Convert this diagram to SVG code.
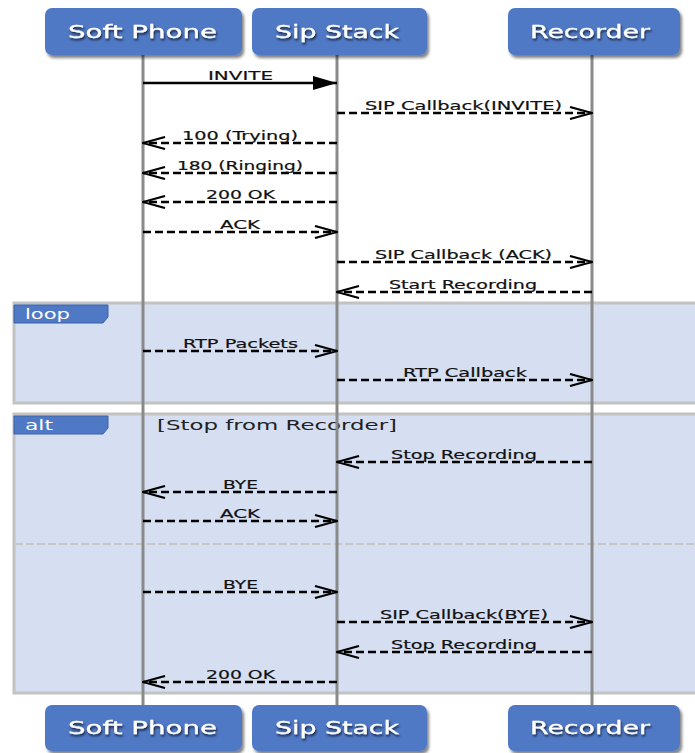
<svg xmlns="http://www.w3.org/2000/svg" width="695" height="753" viewBox="0 0 695 753">
<style>
.bg{fill:#ffffff}
.frame{fill:#d6dff1;stroke:#c2c2c2;stroke-width:3}
.div{stroke:#c6c6c6;stroke-width:2;stroke-dasharray:8 3;fill:none}
.life{stroke:#8a8a8a;stroke-width:3}
.box{fill:#4f78c5}
.btxt{font-family:"DejaVu Sans",sans-serif;font-size:18px;fill:#ffffff;stroke:#ffffff;stroke-width:0.3}
.tag{fill:#4f78c5;stroke:#3d63a8;stroke-width:1}
.ttxt{font-family:"DejaVu Sans",sans-serif;font-size:14px;fill:#ffffff}
.cond{font-family:"DejaVu Sans",sans-serif;font-size:14px;fill:#222222}
.msg{stroke:#000;stroke-width:2.5;fill:none;stroke-dasharray:8 4}
.solid{stroke:#000;stroke-width:2.5;fill:none}
.lbl{font-family:"DejaVu Sans",sans-serif;font-size:13px;fill:#111111;stroke:#111111;stroke-width:0.2}
</style>
<defs>
<filter id="sh" x="-10%" y="-10%" width="125%" height="140%">
<feGaussianBlur in="SourceAlpha" stdDeviation="1.5"/>
<feOffset dx="2" dy="3" result="b"/>
<feComponentTransfer><feFuncA type="linear" slope="0.5"/></feComponentTransfer>
<feMerge><feMergeNode/><feMergeNode in="SourceGraphic"/></feMerge>
</filter>
<filter id="tsh" x="-10%" y="-20%" width="120%" height="150%">
<feGaussianBlur in="SourceAlpha" stdDeviation="1"/>
<feOffset dx="1" dy="1.5"/>
<feComponentTransfer><feFuncA type="linear" slope="0.7"/></feComponentTransfer>
<feMerge><feMergeNode/><feMergeNode in="SourceGraphic"/></feMerge>
</filter>
<marker id="open" viewBox="0 0 24 14" refX="23" refY="7" markerWidth="24" markerHeight="14" markerUnits="userSpaceOnUse" orient="auto">
<path d="M1,1 L23,7 L1,13" fill="none" stroke="#000" stroke-width="2.2"/>
</marker>
<marker id="fill" viewBox="0 0 24 14" refX="24" refY="7" markerWidth="24" markerHeight="14" markerUnits="userSpaceOnUse" orient="auto">
<path d="M0,0 L24,7 L0,14 Z" fill="#000"/>
</marker>
</defs>
<rect class="bg" x="0" y="0" width="695" height="753"/>

<g id="loop-frame">
<rect class="frame" x="14" y="303" width="690" height="100"/>
<path class="tag" d="M14,305 H108 V317 L103,323 H14 Z"/>
<text class="ttxt" x="25" y="319" textLength="45" lengthAdjust="spacingAndGlyphs">loop</text>
</g>
<g id="alt-frame">
<rect class="frame" x="14" y="414" width="690" height="279"/>
<line class="div" x1="15" y1="544" x2="695" y2="544"/>
<path class="tag" d="M14,416 H108 V428 L103,434 H14 Z"/>
<text class="ttxt" x="25" y="430" textLength="28" lengthAdjust="spacingAndGlyphs">alt</text>
<text class="cond" x="157" y="430" textLength="240" lengthAdjust="spacingAndGlyphs">[Stop from Recorder]</text>
</g>

<g id="lifelines">
<line class="life" x1="143" y1="55" x2="143" y2="705"/>
<line class="life" x1="337" y1="55" x2="337" y2="705"/>
<line class="life" x1="592" y1="55" x2="592" y2="705"/>
</g>

<g id="soft-phone">
<rect class="box" x="45" y="8" width="197" height="47" rx="7" filter="url(#sh)"/>
<text class="btxt" x="68" y="38" textLength="149" lengthAdjust="spacingAndGlyphs" filter="url(#tsh)">Soft Phone</text>
</g>
<g id="sip-stack">
<rect class="box" x="252" y="8" width="175" height="47" rx="7" filter="url(#sh)"/>
<text class="btxt" x="275" y="38" textLength="124" lengthAdjust="spacingAndGlyphs" filter="url(#tsh)">Sip Stack</text>
</g>
<g id="recorder">
<rect class="box" x="508" y="8" width="172" height="47" rx="7" filter="url(#sh)"/>
<text class="btxt" x="530" y="38" textLength="120" lengthAdjust="spacingAndGlyphs" filter="url(#tsh)">Recorder</text>
</g>
<g id="soft-phone-bottom">
<rect class="box" x="45" y="705" width="197" height="46" rx="7" filter="url(#sh)"/>
<text class="btxt" x="68" y="734" textLength="149" lengthAdjust="spacingAndGlyphs" filter="url(#tsh)">Soft Phone</text>
</g>
<g id="sip-stack-bottom">
<rect class="box" x="252" y="705" width="175" height="46" rx="7" filter="url(#sh)"/>
<text class="btxt" x="275" y="734" textLength="124" lengthAdjust="spacingAndGlyphs" filter="url(#tsh)">Sip Stack</text>
</g>
<g id="recorder-bottom">
<rect class="box" x="508" y="705" width="172" height="46" rx="7" filter="url(#sh)"/>
<text class="btxt" x="530" y="734" textLength="120" lengthAdjust="spacingAndGlyphs" filter="url(#tsh)">Recorder</text>
</g>

<g id="connectors">
<line class="solid" x1="143" y1="83" x2="337" y2="83" marker-end="url(#fill)"/>
<text class="lbl" x="208" y="80" textLength="65" lengthAdjust="spacingAndGlyphs">INVITE</text>

<line class="msg" x1="337" y1="113" x2="592" y2="113" marker-end="url(#open)"/>
<text class="lbl" x="365" y="110" textLength="197" lengthAdjust="spacingAndGlyphs">SIP Callback(INVITE)</text>

<line class="msg" x1="337" y1="143" x2="143" y2="143" marker-end="url(#open)"/>
<text class="lbl" x="182" y="140" textLength="116" lengthAdjust="spacingAndGlyphs">100 (Trying)</text>

<line class="msg" x1="337" y1="173" x2="143" y2="173" marker-end="url(#open)"/>
<text class="lbl" x="177" y="170" textLength="126" lengthAdjust="spacingAndGlyphs">180 (Ringing)</text>

<line class="msg" x1="337" y1="202" x2="143" y2="202" marker-end="url(#open)"/>
<text class="lbl" x="206" y="199" textLength="69" lengthAdjust="spacingAndGlyphs">200 OK</text>

<line class="msg" x1="143" y1="232" x2="337" y2="232" marker-end="url(#open)"/>
<text class="lbl" x="220" y="229" textLength="40" lengthAdjust="spacingAndGlyphs">ACK</text>

<line class="msg" x1="337" y1="262" x2="592" y2="262" marker-end="url(#open)"/>
<text class="lbl" x="375" y="259" textLength="177" lengthAdjust="spacingAndGlyphs">SIP Callback (ACK)</text>

<line class="msg" x1="592" y1="292" x2="337" y2="292" marker-end="url(#open)"/>
<text class="lbl" x="389" y="289" textLength="148" lengthAdjust="spacingAndGlyphs">Start Recording</text>

<line class="msg" x1="143" y1="351" x2="337" y2="351" marker-end="url(#open)"/>
<text class="lbl" x="183" y="348" textLength="115" lengthAdjust="spacingAndGlyphs">RTP Packets</text>

<line class="msg" x1="337" y1="380" x2="592" y2="380" marker-end="url(#open)"/>
<text class="lbl" x="403" y="377" textLength="124" lengthAdjust="spacingAndGlyphs">RTP Callback</text>

<line class="msg" x1="592" y1="462" x2="337" y2="462" marker-end="url(#open)"/>
<text class="lbl" x="391" y="459" textLength="146" lengthAdjust="spacingAndGlyphs">Stop Recording</text>

<line class="msg" x1="337" y1="492" x2="143" y2="492" marker-end="url(#open)"/>
<text class="lbl" x="223" y="489" textLength="35" lengthAdjust="spacingAndGlyphs">BYE</text>

<line class="msg" x1="143" y1="521" x2="337" y2="521" marker-end="url(#open)"/>
<text class="lbl" x="220" y="518" textLength="40" lengthAdjust="spacingAndGlyphs">ACK</text>

<line class="msg" x1="143" y1="592" x2="337" y2="592" marker-end="url(#open)"/>
<text class="lbl" x="223" y="589" textLength="35" lengthAdjust="spacingAndGlyphs">BYE</text>

<line class="msg" x1="337" y1="622" x2="592" y2="622" marker-end="url(#open)"/>
<text class="lbl" x="380" y="619" textLength="168" lengthAdjust="spacingAndGlyphs">SIP Callback(BYE)</text>

<line class="msg" x1="592" y1="652" x2="337" y2="652" marker-end="url(#open)"/>
<text class="lbl" x="391" y="649" textLength="146" lengthAdjust="spacingAndGlyphs">Stop Recording</text>

<line class="msg" x1="337" y1="682" x2="143" y2="682" marker-end="url(#open)"/>
<text class="lbl" x="206" y="679" textLength="69" lengthAdjust="spacingAndGlyphs">200 OK</text>
</g>
</svg>
